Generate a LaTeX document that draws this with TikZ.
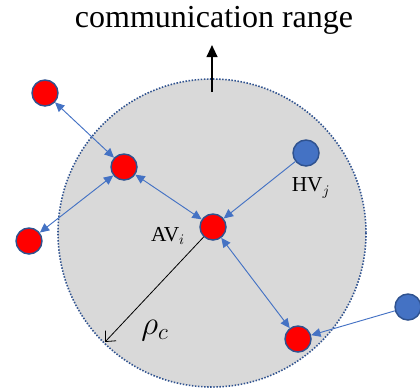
\documentclass[tikz,border=0pt]{standalone}
\usepackage{fontspec}
\setmainfont{Liberation Serif}
\usetikzlibrary{arrows.meta, positioning}

\definecolor{linkblue}{HTML}{4472C4}
\definecolor{rimblue}{HTML}{2F528F}
\definecolor{rangegray}{HTML}{D9D9D9}

\tikzset{
    av/.style={circle, draw=rimblue, line width=1.1pt, fill=red, inner sep=0pt, minimum size=19.5pt},
    hv/.style={circle, draw=rimblue, line width=1.1pt, fill=linkblue, inner sep=0pt, minimum size=19.5pt},
    link/.style={draw=linkblue, line width=0.7pt, -{Triangle[length=7pt, width=6.5pt]}},
    dlink/.style={draw=linkblue, line width=0.7pt, {Triangle[length=7pt, width=6.5pt]}-{Triangle[length=7pt, width=6.5pt]}}
}

\begin{document}
\begin{tikzpicture}[x=0.75pt, y=-0.75pt]
    \useasboundingbox (0,0) rectangle (420,389);

    % communication range
    \coordinate (ctr) at (212,233);
    \draw [fill=rangegray, draw=rimblue, line width=1.2pt, dash pattern=on 1.1pt off 1.2pt] (ctr) circle (154);
    \node (range) at (214,20) {\fontsize{24}{28}\selectfont communication range};
    \coordinate (base) at (212,92);
    \coordinate (tip) at (212,45);
    \draw [line width=1.5pt, -{Triangle[length=9pt, width=8pt]}] (base) -- (tip);

    % vehicles
    \node [av] (av1) at (45,93) {};
    \node [av] (av2) at (124,167) {};
    \node [av] (av3) at (29,241) {};
    \node [av] (avi) at (213,227) {};
    \node [hv] (hvj) at (306,153) {};
    \node [av] (av4) at (298,339) {};
    \node [hv] (hv2) at (408,307) {};

    \node (avilabel) at (168,236) {\fontsize{16}{19}\selectfont AV$_i$};
    \node (hvjlabel) at (311,188) {\fontsize{16}{19}\selectfont HV$_j$};

    % radius
    \coordinate (rim) at (105,342);
    \draw [line width=0.6pt, -{Straight Barb[length=6pt, width=11pt]}] (avi) -- (rim);
    \node (rholabel) at (155,331) {\fontsize{27}{30}\selectfont $\rho_c$};

    % links
    \draw [dlink] (av1) -- (av2);
    \draw [dlink] (av2) -- (av3);
    \draw [dlink] (av2) -- (avi);
    \draw [link] (hvj) -- (avi);
    \draw [dlink] (avi) -- (av4);
    \draw [link] (hv2) -- (av4);
\end{tikzpicture}
\end{document}
